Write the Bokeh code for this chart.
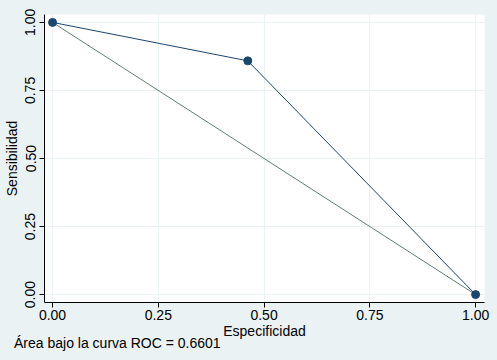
from bokeh.plotting import figure
from bokeh.models import Range1d, FixedTicker, ColumnDataSource, Div
from bokeh.layouts import column
from bokeh.embed import file_html
from bokeh.resources import INLINE

# Data
especificidad = [0.0, 0.4615, 1.0]
sensibilidad = [1.0, 0.8587, 0.0]
ref_x = [0.0, 1.0]
ref_y = [1.0, 0.0]
ticks = [0.0, 0.25, 0.5, 0.75, 1.0]
tick_labels = {0.0: "0.00", 0.25: "0.25", 0.5: "0.50", 0.75: "0.75", 1.0: "1.00"}
auc_text = "Área bajo la curva ROC = 0.6601"

BG = "#eaf2f3"
NAVY = "#1a476f"
GREEN = "#5f7f6f"
FONT = "Liberation Sans"

p = figure(frame_width=440, frame_height=288, output_backend="svg", toolbar_location=None,
           x_range=Range1d(-0.019, 1.021), y_range=Range1d(-0.029, 1.029),
           background_fill_color="white", border_fill_color=BG,
           min_border_left=44, min_border_right=13, min_border_top=14, min_border_bottom=40)
p.outline_line_color = None

src = ColumnDataSource(dict(x=especificidad, y=sensibilidad))
p.line(ref_x, ref_y, line_color=GREEN, line_width=1)
p.line("x", "y", source=src, line_color=NAVY, line_width=1)
p.scatter("x", "y", source=src, size=8, fill_color=NAVY, line_color=NAVY)

for ax in (p.xaxis, p.yaxis):
    ax.ticker = FixedTicker(ticks=ticks)
    ax.major_label_overrides = tick_labels
    ax.minor_tick_line_color = None
    ax.major_tick_out = 5
    ax.major_tick_in = 0
    ax.axis_line_color = "black"
    ax.major_tick_line_color = "black"
    ax.major_label_text_font = FONT
    ax.major_label_text_font_size = "14px"
    ax.major_label_text_color = "black"
    ax.axis_label_text_font = FONT
    ax.axis_label_text_font_size = "14px"
    ax.axis_label_text_font_style = "normal"
    ax.axis_label_text_color = "black"

p.xaxis.major_label_standoff = 2
p.xaxis.axis_label_standoff = 0
p.yaxis.major_label_standoff = 4
p.yaxis.axis_label_standoff = 3

p.xaxis.axis_label = "Especificidad"
p.yaxis.axis_label = "Sensibilidad"
p.yaxis.major_label_orientation = "vertical"

p.grid.grid_line_color = BG
p.grid.grid_line_width = 1
p.xgrid.ticker = FixedTicker(ticks=ticks)
p.ygrid.ticker = FixedTicker(ticks=ticks)

note = Div(text=auc_text, width=400, height=18,
           styles={"font-family": FONT, "font-size": "14px", "color": "black",
                   "line-height": "16px", "margin-left": "14px", "margin-top": "-7px"})

layout = column(p, note, spacing=0)

html = file_html(layout, INLINE)
html = html.replace("<head>", "<head><style>body{background:%s;}</style>" % BG, 1)
open("out.html", "w").write(html)
